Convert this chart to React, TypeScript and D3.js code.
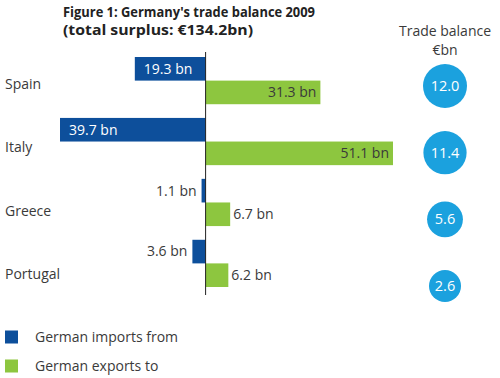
import React from "react";
import * as d3 from "d3";

const countries = ["Spain", "Italy", "Greece", "Portugal"];
const imports = [19.3, 39.7, 1.1, 3.6];
const exportsTo = [31.3, 51.1, 6.7, 6.2];
const balance = [12.0, 11.4, 5.6, 2.6];
const seriesKeys = ["imports", "exports"];
const legendLabels = ["German imports from", "German exports to"];
const titleLines = ["Figure 1: Germany's trade balance 2009", "(total surplus: €134.2bn)"];
const balanceHeader = ["Trade balance", "€bn"];

const W = 500;
const H = 378;
const BLUE = "#0d4f9b";
const GREEN = "#8dc63f";
const CIRCLE = "#1ba1de";
const TEXT = "#3a3a3a";
const FONT = "'Open Sans', 'Noto Sans', sans-serif";

export default function App() {
  const x = d3.scaleLinear().domain([-39.7, 51.1]).range([60, 393]);
  const y = d3.scaleBand<string>().domain(countries).range([57, 287]).paddingInner(0.225);
  const ySub = d3.scaleBand<string>().domain(seriesKeys).range([0, y.bandwidth()]);
  const yLabel = d3.scalePoint<string>().domain(countries).range([84, 274]);
  const yCircle = d3.scalePoint<string>().domain(countries).range([86, 286]);
  const r = d3.scaleLinear().domain([2.6, 12]).range([16, 22]);
  const yLegend = d3.scalePoint<string>().domain(legendLabels).range([337, 366]);

  const x0 = x(0);
  const bh = ySub.bandwidth();

  return (
    <svg width={W} height={H} style={{ position: "absolute", left: 0, top: 0, background: "#fff" }} fontFamily={FONT}>
      <rect width={W} height={H} fill="#fff" />
      {/* Title */}
      <text fontWeight="bold" fontSize={14.5} fill="#222">
        <tspan x={63} y={17} textLength={252} lengthAdjust="spacingAndGlyphs">{titleLines[0]}</tspan>
        <tspan x={63} y={35} textLength={190} lengthAdjust="spacingAndGlyphs">{titleLines[1]}</tspan>
      </text>
      {/* Balance header */}
      <text x={445} y={36} textAnchor="middle" fontSize={14} fill={TEXT}>{balanceHeader[0]}</text>
      <text x={445} y={55} textAnchor="middle" fontSize={14} fill={TEXT}>{balanceHeader[1]}</text>

      {countries.map((c, i) => {
        const g = y(c)!;
        const yi = g + ySub("imports")!;
        const ye = g + ySub("exports")!;
        const iv = imports[i];
        const ev = exportsTo[i];
        const iInside = x0 - x(-iv) > 60;
        const eInside = x(ev) - x0 > 60;
        return (
          <g key={c}>
            <text x={5} y={yLabel(c)!} dy="0.35em" fontSize={14} fill={TEXT}>{c}</text>
            <rect x={x(-iv)} y={yi} width={x0 - x(-iv)} height={bh} fill={BLUE} />
            <rect x={x0} y={ye} width={x(ev) - x0} height={bh} fill={GREEN} />
            <text
              x={iInside ? x(-iv) + 9 : x(-iv) - 5}
              y={yi + bh / 2}
              dy="0.35em"
              textAnchor={iInside ? "start" : "end"}
              fontSize={14}
              fill={iInside ? "#ffffff" : TEXT}
            >{`${iv.toFixed(1)} bn`}</text>
            <text
              x={eInside ? x(ev) - 4 : x(ev) + 3}
              y={ye + bh / 2}
              dy="0.35em"
              textAnchor={eInside ? "end" : "start"}
              fontSize={14}
              fill={TEXT}
            >{`${ev.toFixed(1)} bn`}</text>
            <circle cx={445} cy={yCircle(c)!} r={r(balance[i])} fill={CIRCLE} />
            <text x={445} y={yCircle(c)!} dy="0.35em" textAnchor="middle" fontSize={14.5} fill="#ffffff">{balance[i].toFixed(1)}</text>
          </g>
        );
      })}

      <line x1={x0} x2={x0} y1={52} y2={295} stroke="#222" strokeWidth={1} />

      {legendLabels.map((l, i) => (
        <g key={l}>
          <rect x={5} y={yLegend(l)! - 6.5} width={13} height={13} fill={i === 0 ? BLUE : GREEN} />
          <text x={35} y={yLegend(l)!} dy="0.35em" fontSize={14} fill={TEXT}>{l}</text>
        </g>
      ))}
    </svg>
  );
}
